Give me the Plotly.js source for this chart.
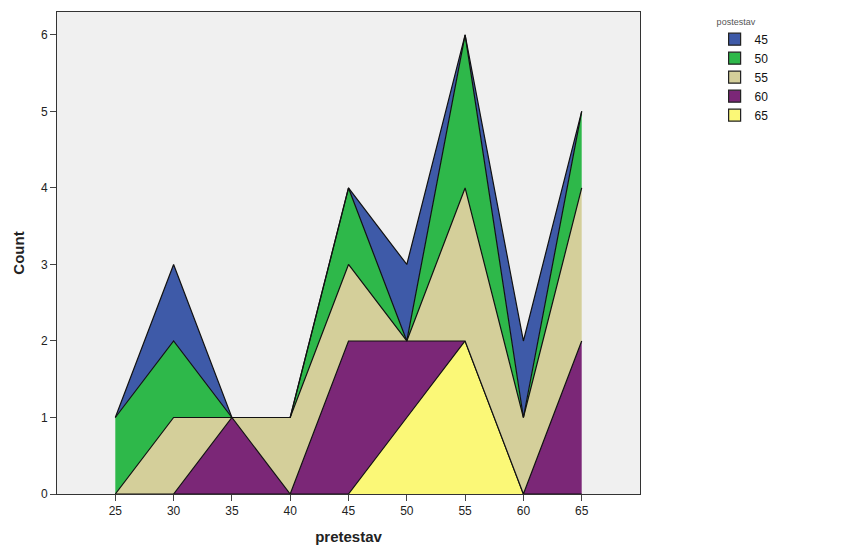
<!DOCTYPE html>
<html>
<head>
<meta charset="utf-8">
<script src="https://cdn.plot.ly/plotly-3.0.1.min.js"></script>
<style>html,body{margin:0;padding:0;background:#fff;}#chart{width:861px;height:546px;}</style>
</head>
<body>
<div id="chart"></div>
<script>
const pretestav = [25, 30, 35, 40, 45, 50, 55, 60, 65];
const seriesNames = ["65", "60", "55", "50", "45"];
const count65 = [0, 0, 0, 0, 0, 1, 2, 0, 0];
const count60 = [0, 0, 1, 0, 2, 1, 0, 0, 2];
const count55 = [0, 1, 0, 1, 1, 0, 2, 1, 2];
const count50 = [1, 1, 0, 0, 1, 0, 2, 0, 1];
const count45 = [0, 1, 0, 0, 0, 1, 0, 1, 0];
const seriesValues = [count65, count60, count55, count50, count45];
const colors = ["#fbf877", "#7b2777", "#d4cf9a", "#2eb84a", "#3e5aa8"];

const areaTraces = seriesNames.map((n, i) => ({
  x: pretestav,
  y: seriesValues[i],
  name: n,
  legendgroup: n,
  showlegend: false,
  type: "scatter",
  mode: "lines",
  stackgroup: "one",
  fillcolor: colors[i],
  line: {color: "#111", width: 1.2},
  hoverinfo: "x+y+name"
}));

// legend-only entries with square swatches
const legendTraces = seriesNames.map((n, i) => ({
  x: [null],
  y: [null],
  name: n,
  legendgroup: n,
  type: "bar",
  marker: {color: colors[i], line: {color: "#222", width: 1.2}},
  hoverinfo: "skip"
}));

const layout = {
  width: 861, height: 546,
  margin: {l: 57, r: 221, t: 12, b: 52},
  paper_bgcolor: "#ffffff",
  plot_bgcolor: "#f0f0f0",
  font: {family: "Liberation Sans, Arial, sans-serif", color: "#222", size: 12},
  showlegend: true,
  legend: {
    x: 1.128, y: 0.998, xanchor: "left", yanchor: "top",
    traceorder: "reversed",
    font: {size: 12, color: "#111"},
    title: {text: "postestav", font: {size: 9, color: "#555"}},
    itemwidth: 30, tracegroupgap: 0,
    bgcolor: "rgba(0,0,0,0)"
  },
  xaxis: {
    range: [20, 70],
    tickvals: pretestav,
    ticktext: pretestav.map(String),
    ticks: "outside", ticklen: 6, tickcolor: "#444",
    showline: true, linecolor: "#333", linewidth: 1, mirror: true,
    showgrid: false, zeroline: false,
    tickfont: {size: 12},
    title: {text: "pretestav", font: {size: 15, color: "#222", family: "Liberation Sans, Arial, sans-serif", weight: "bold"}, standoff: 14}
  },
  yaxis: {
    range: [0, 6.3],
    tickvals: [0, 1, 2, 3, 4, 5, 6],
    ticks: "outside", ticklen: 6, tickcolor: "#444",
    showline: true, linecolor: "#333", linewidth: 1, mirror: true,
    showgrid: false, zeroline: false,
    tickfont: {size: 12},
    title: {text: "Count", font: {size: 15, color: "#222", family: "Liberation Sans, Arial, sans-serif", weight: "bold"}, standoff: 12}
  }
};

Plotly.newPlot("chart", areaTraces.concat(legendTraces), layout, {displayModeBar: false, staticPlot: true});
</script>
</body>
</html>
